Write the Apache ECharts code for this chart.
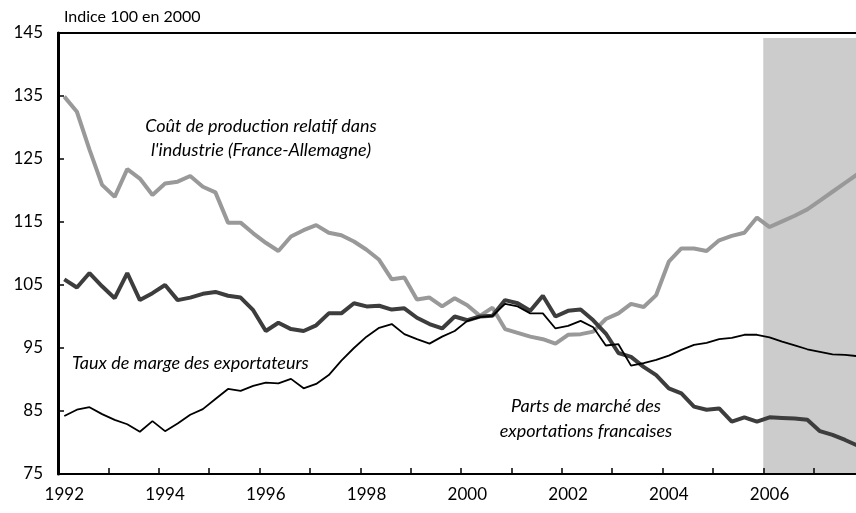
<!DOCTYPE html>
<html>
<head>
<meta charset="utf-8">
<script src="https://cdn.jsdelivr.net/npm/echarts@6/dist/echarts.min.js"></script>
<style>
html,body{margin:0;padding:0;background:#fff;}
#chart{width:856px;height:513px;}
</style>
</head>
<body>
<div id="chart"></div>
<script>
// Quarterly categories 1992T1 .. 2007T4
const years = [1992,1993,1994,1995,1996,1997,1998,1999,2000,2001,2002,2003,2004,2005,2006,2007];
const quarters = ['T1','T2','T3','T4'];
const categories = [];
years.forEach(y => quarters.forEach(q => categories.push(y + q)));

const yTicks = [75, 85, 95, 105, 115, 125, 135, 145];

// Coût de production relatif dans l'industrie (France-Allemagne)
const coutProduction = [
  134.9,132.5,126.5,120.9, 119.0,123.4,121.9,119.3, 121.1,121.4,122.3,120.6, 119.7,114.9,114.9,113.2,
  111.7,110.4,112.7,113.7, 114.5,113.3,112.9,111.9, 110.6,109.0,105.9,106.2, 102.7,103.0,101.6,102.9,
  101.8,100.1,101.4,98.0, 97.4,96.8,96.4,95.7, 97.1,97.2,97.6,99.6, 100.5,102.0,101.5,103.4,
  108.7,110.8,110.8,110.4, 112.1,112.8,113.3,115.7, 114.2,115.1,116.0,117.0, 118.4,119.8,121.2,122.6
];

// Parts de marché des exportations françaises
const partsMarche = [
  105.9,104.6,106.9,104.8, 102.9,106.9,102.6,103.7, 105.0,102.6,103.0,103.6, 103.9,103.3,103.0,101.0,
  97.7,99.0,98.0,97.7, 98.6,100.5,100.5,102.1, 101.6,101.7,101.1,101.3, 99.8,98.8,98.1,100.0,
  99.4,100.0,100.1,102.6, 102.1,100.9,103.3,100.0, 100.9,101.1,99.4,97.3, 94.2,93.6,92.0,90.7,
  88.6,87.8,85.7,85.2, 85.4,83.3,84.0,83.3, 84.0,83.9,83.8,83.6, 81.8,81.2,80.4,79.5
];

// Taux de marge des exportateurs
const tauxMarge = [
  84.2,85.2,85.6,84.5, 83.6,82.9,81.7,83.4, 81.8,83.0,84.4,85.3, 86.9,88.5,88.2,89.0,
  89.5,89.4,90.1,88.6, 89.3,90.7,93.0,95.0, 96.8,98.2,98.8,97.2, 96.4,95.7,96.8,97.7,
  99.3,99.9,100.1,102.0, 101.6,100.5,100.5,98.1, 98.5,99.3,98.3,95.4, 95.6,92.2,92.6,93.1,
  93.8,94.7,95.5,95.8, 96.4,96.6,97.1,97.1, 96.7,96.0,95.4,94.8, 94.4,94.0,93.9,93.7
];

// Shaded (projection) period
const shadeStart = '2006T1';
const shadeTop = 144.2;

const FONT = 'Lato, "Open Sans", sans-serif';

const chart = echarts.init(document.getElementById('chart'), null, {renderer: 'canvas'});
chart.setOption({
  animation: false,
  backgroundColor: '#ffffff',
  grid: {left: 58, top: 33, width: 806, height: 441, containLabel: false, outerBoundsMode: 'none'},
  xAxis: [{
    type: 'category',
    data: categories,
    boundaryGap: true,
    axisLine: {show: true, lineStyle: {color: '#000', width: 2}},
    axisTick: {show: true, inside: true, length: 6, interval: 3, lineStyle: {color: '#000', width: 1.5}},
    axisLabel: {interval: 7, margin: 12, fontSize: 17, color: '#000', fontFamily: FONT,
      formatter: v => v.slice(0, 4)},
    splitLine: {show: false}
  }, {
    type: 'category',
    data: categories,
    position: 'top',
    boundaryGap: true,
    axisLine: {show: true, lineStyle: {color: '#000', width: 2}},
    axisTick: {show: false},
    axisLabel: {show: false},
    splitLine: {show: false}
  }],
  yAxis: {
    type: 'value',
    min: yTicks[0],
    max: yTicks[yTicks.length - 1],
    interval: 10,
    axisLine: {show: true, lineStyle: {color: '#000', width: 3}},
    axisTick: {show: true, inside: true, length: 6, lineStyle: {color: '#000', width: 1.5}},
    axisLabel: {margin: 15, fontSize: 17, color: '#000', fontFamily: FONT},
    splitLine: {show: false}
  },
  graphic: [
    {type: 'text', left: 64, top: 9, style: {text: 'Indice 100 en 2000', fontSize: 16, fontFamily: FONT, fill: '#000'}},
    {type: 'text', x: 261, y: 138, style: {text: 'Coût de production relatif dans\nl\'industrie (France-Allemagne)', fontSize: 18, fontStyle: 'italic', fontFamily: FONT, fill: '#000', align: 'center', verticalAlign: 'middle', lineHeight: 24}, z: 100},
    {type: 'text', x: 72, y: 363, style: {text: 'Taux de marge des exportateurs', fontSize: 18, fontStyle: 'italic', fontFamily: FONT, fill: '#000', align: 'left', verticalAlign: 'middle'}, z: 100},
    {type: 'text', x: 586, y: 419, style: {text: 'Parts de marché des\nexportations francaises', fontSize: 18, fontStyle: 'italic', fontFamily: FONT, fill: '#000', align: 'center', verticalAlign: 'middle', lineHeight: 25}, z: 100}
  ],
  series: [
    {
      type: 'custom', silent: true, z: 0,
      data: [[categories.indexOf(shadeStart), shadeTop]],
      encode: {x: 0, y: 1},
      renderItem: function (params, api) {
        const idx = api.value(0);
        const top = api.coord([idx, api.value(1)]);
        const bandW = api.size([1, 0])[0];
        const cs = params.coordSys;
        const x0 = top[0] - bandW / 2;
        return {
          type: 'rect',
          shape: {x: x0, y: top[1], width: cs.x + cs.width - x0, height: cs.y + cs.height - top[1]},
          style: {fill: '#cccccc'}
        };
      }
    },
    {type: 'line', name: 'Coût de production', data: coutProduction, symbol: 'none',
      lineStyle: {color: '#999999', width: 4}, z: 2},
    {type: 'line', name: 'Parts de marché', data: partsMarche, symbol: 'none',
      lineStyle: {color: '#3d3d3d', width: 4}, z: 3},
    {type: 'line', name: 'Taux de marge', data: tauxMarge, symbol: 'none',
      lineStyle: {color: '#000000', width: 1.8}, z: 4}
  ]
});
</script>
</body>
</html>
